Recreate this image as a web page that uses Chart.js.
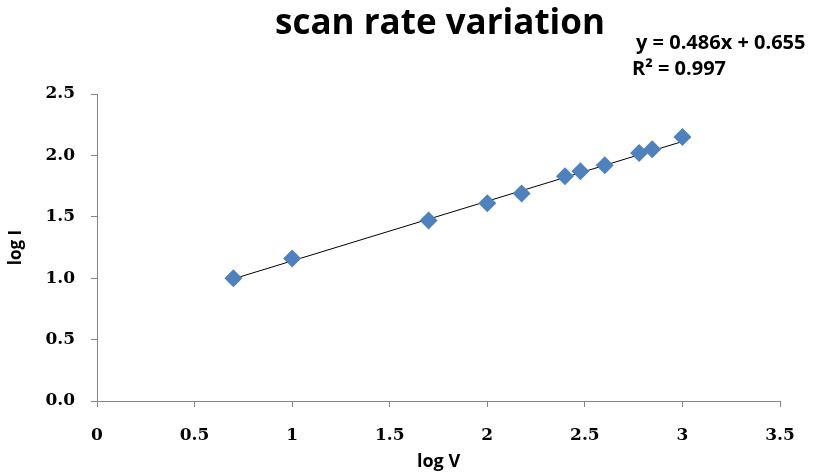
<!DOCTYPE html>
<html>
<head>
<meta charset="utf-8">
<script src="https://cdn.jsdelivr.net/npm/chart.js@4"></script>
<style>
  html, body { margin: 0; padding: 0; background: #fff; }
  #wrap { width: 838px; height: 473px; position: relative; }
</style>
</head>
<body>
<div id="wrap"><canvas id="graphCanvas"></canvas></div>
<script>
// log V values (x) and log I values (y)
var logV = [0.699, 1.0, 1.699, 2.0, 2.176, 2.398, 2.477, 2.602, 2.778, 2.845, 3.0];
var logI = [1.00, 1.16, 1.47, 1.61, 1.69, 1.83, 1.87, 1.92, 2.02, 2.05, 2.15];

// linear trend line as printed on the chart
var slope = 0.486;
var intercept = 0.655;
var trendX = [0.699, 3.0];

var xTicks = [0, 0.5, 1, 1.5, 2, 2.5, 3, 3.5];
var yTicks = [0.0, 0.5, 1.0, 1.5, 2.0, 2.5];

var points = [];
for (var i = 0; i < logV.length; i++) {
    points.push({ x: logV[i], y: logI[i] });
}
var trend = [];
for (var j = 0; j < trendX.length; j++) {
    trend.push({ x: trendX[j], y: slope * trendX[j] + intercept });
}

var axisGray = '#868686';
var tickFont = { family: 'DejaVu Serif', weight: 'bold', size: 17 };

// title + equation text drawn straight on the canvas
var textPlugin = {
    id: 'texts',
    afterDraw: function (chart) {
        var ctx = chart.ctx;
        ctx.save();
        ctx.fillStyle = '#000';
        ctx.textBaseline = 'middle';
        ctx.textAlign = 'center';
        ctx.font = 'bold 35px "Open Sans"';
        ctx.fillText('scan rate variation', 440, 24);
        ctx.textAlign = 'left';
        ctx.font = 'bold 20px "Open Sans"';
        ctx.fillText('y = 0.486x + 0.655', 636, 43);
        ctx.fillText('R\u00B2 = 0.997', 632, 69);
        ctx.restore();
    }
};

new Chart(document.getElementById('graphCanvas'), {
    type: 'scatter',
    data: {
        datasets: [
            {
                label: 'log I',
                data: points,
                pointStyle: 'rectRot',
                pointRadius: 9,
                pointHoverRadius: 9,
                backgroundColor: '#4F81BD',
                borderColor: '#4F81BD',
                borderWidth: 0
            },
            {
                label: 'Linear',
                data: trend,
                showLine: true,
                pointRadius: 0,
                borderColor: '#000000',
                borderWidth: 1,
                fill: false
            }
        ]
    },
    options: {
        responsive: true,
        maintainAspectRatio: false,
        animation: false,
        layout: { padding: { top: 94, right: 58, bottom: 0, left: 6 } },
        plugins: {
            legend: { display: false },
            tooltip: { enabled: false }
        },
        scales: {
            x: {
                type: 'linear',
                min: 0,
                max: 3.5,
                afterBuildTicks: function (axis) {
                    axis.ticks = xTicks.map(function (v) { return { value: v }; });
                },
                afterFit: function (axis) { axis.height = 72; },
                border: { color: axisGray, width: 1 },
                grid: { drawOnChartArea: false, color: axisGray, tickLength: 6 },
                ticks: {
                    color: '#000',
                    font: tickFont,
                    padding: 18,
                    maxRotation: 0,
                    callback: function (v) { return String(v); }
                },
                title: {
                    display: true,
                    text: 'log V',
                    color: '#000',
                    font: { family: 'Open Sans', weight: 'bold', size: 18 },
                    padding: { top: 2, bottom: 0 }
                }
            },
            y: {
                type: 'linear',
                min: 0,
                max: 2.5,
                afterBuildTicks: function (axis) {
                    axis.ticks = yTicks.map(function (v) { return { value: v }; });
                },
                afterFit: function (axis) { axis.width = 91; },
                border: { color: axisGray, width: 1 },
                grid: { drawOnChartArea: false, color: axisGray, tickLength: 6 },
                ticks: {
                    color: '#000',
                    font: tickFont,
                    padding: 16,
                    callback: function (v) { return Number(v).toFixed(1); }
                },
                title: {
                    display: true,
                    text: 'log I',
                    color: '#000',
                    font: { family: 'Liberation Sans Narrow, Open Sans', weight: 'bold', size: 17 },
                    padding: { top: 0, bottom: 0 }
                }
            }
        }
    },
    plugins: [textPlugin]
});
</script>
</body>
</html>
